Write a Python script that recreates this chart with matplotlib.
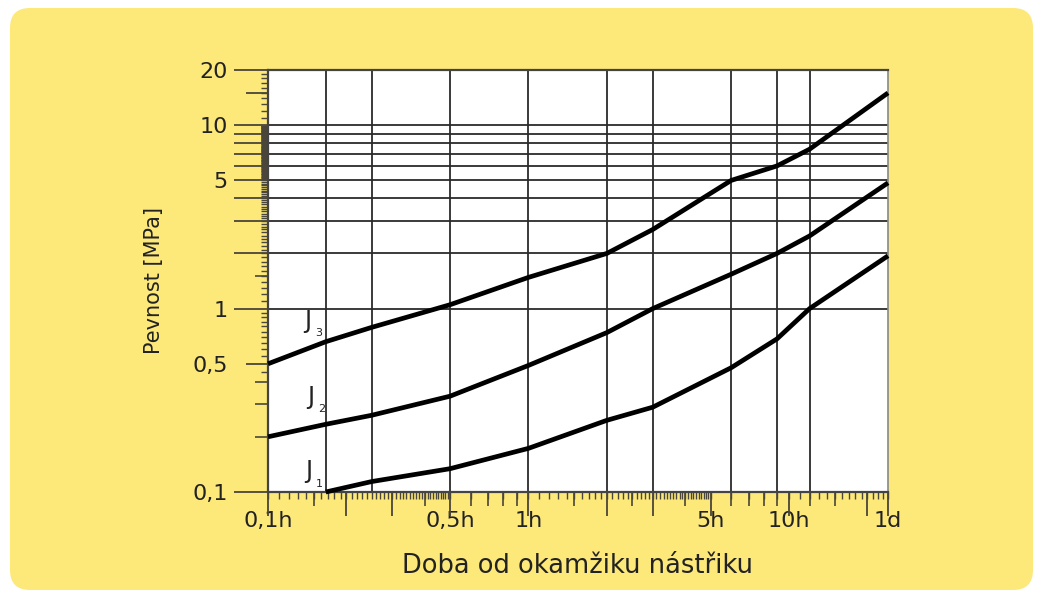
import numpy as np
import matplotlib
matplotlib.use("Agg")
import matplotlib.pyplot as plt
from matplotlib.patches import FancyBboxPatch
from matplotlib.transforms import IdentityTransform

# time since spraying [h] and strength [MPa] for classes J1..J3
t_j3 = [0.1, 1/6, 0.25, 0.5, 1, 2, 3, 6, 9, 12, 24]
s_j3 = [0.5, 0.66, 0.79, 1.05, 1.48, 2.0, 2.7, 5.0, 6.0, 7.4, 15.0]
t_j2 = [0.1, 1/6, 0.25, 0.5, 1, 2, 3, 6, 9, 12, 24]
s_j2 = [0.2, 0.234, 0.262, 0.333, 0.49, 0.74, 1.0, 1.54, 2.0, 2.49, 4.85]
t_j1 = [1/6, 0.25, 0.5, 1, 2, 3, 6, 9, 12, 24]
s_j1 = [0.1, 0.114, 0.134, 0.173, 0.246, 0.29, 0.476, 0.684, 1.0, 1.94]

x_ticks = [0.1, 0.5, 1, 5, 10, 24]
x_ticklabels = ['0,1h', '0,5h', '1h', '5h', '10h', '1d']
y_ticks = [0.1, 0.5, 1, 5, 10, 20]
y_ticklabels = ['0,1', '0,5', '1', '5', '10', '20']
x_grid = [1/6, 0.25, 0.5, 1, 2, 3, 6, 9, 12]
y_grid = [1, 2, 3, 4, 5, 6, 7, 8, 9, 10]

YELLOW = '#fde87a'
INK = '#2b2b2b'
TICK = '#4a463a'
TEXT = '#222222'

fig = plt.figure(figsize=(10.37, 5.95), dpi=100)
fig.patch.set_facecolor('white')
fig.add_artist(FancyBboxPatch((10, 5), 1023, 582,
                              boxstyle='round,pad=0,rounding_size=20',
                              transform=IdentityTransform(),
                              fc=YELLOW, ec='none', zorder=-10))

ax = fig.add_axes([268/1037, 1 - 492/595, 620/1037, 422/595])
ax.set_facecolor('white')
ax.set_xscale('log')
ax.set_yscale('log')
ax.set_xlim(0.1, 24)
ax.set_ylim(0.1, 20)

for g in x_grid:
    ax.axvline(g, color=INK, lw=1.3, zorder=1)
for g in y_grid:
    ax.axhline(g, color=INK, lw=1.3, zorder=1)

for t, s in [(t_j3, s_j3), (t_j2, s_j2), (t_j1, s_j1)]:
    ax.plot(t, s, color='black', lw=3.4, solid_joinstyle='round',
            solid_capstyle='butt', zorder=3, clip_on=False)

# curve names with subscripts
name_font = ['Liberation Sans Narrow', 'DejaVu Sans']
for sub, (xj, yj) in [('3', (0.138, 0.74)), ('2', (0.141, 0.285)), ('1', (0.139, 0.112))]:
    ax.text(xj, yj, 'J', fontsize=17, color=TEXT, ha='left', va='bottom',
            family=name_font)
    ax.text(xj * 1.1, yj * 0.93, sub, fontsize=8, color=TEXT,
            ha='left', va='bottom', family=name_font)

# ruler-style ticks in several lengths
ax.tick_params(which='both', length=0)
ax.minorticks_off()
ax.set_xticks(x_ticks)
ax.set_xticklabels(x_ticklabels)
ax.set_yticks(y_ticks)
ax.set_yticklabels(y_ticklabels)
ax.tick_params(axis='x', pad=14, labelsize=16, colors=TEXT)
ax.tick_params(axis='y', pad=29, labelsize=16, colors=TEXT)

x_long = [0.1, 0.2, 0.3, 0.5, 1, 2, 3, 5, 10, 20, 24]
x_mid = [0.15, 0.4, 0.6, 0.7, 0.8, 0.9, 1.5, 2.5, 4, 6, 7, 8, 9, 12, 15]
x_short = list(np.arange(0.10, 0.50, 0.01)) + list(np.arange(0.5, 5.0, 0.1)) + list(range(5, 25))
y_long = [0.1, 1, 2, 3, 4, 5, 6, 7, 8, 9, 10, 20]
y_mid = [0.5, 15]
y_small = [0.2, 0.3, 0.4, 1.5]
y_short = [0.45] + list(np.arange(0.55, 1.0, 0.05)) + list(np.arange(1.1, 5.0, 0.1)) \
    + list(np.arange(5.05, 10.0, 0.05)) + list(range(11, 20))

ax_h = 422.0
ax_w = 620.0
xt = ax.get_xaxis_transform()
yt = ax.get_yaxis_transform()
for vals, ln, lw in [(x_short, 7, 1.0), (x_mid, 14, 1.2), (x_long, 24, 1.3)]:
    ax.vlines(vals, -ln / ax_h, 0, transform=xt, color=TICK, lw=lw, clip_on=False)
for vals, ln, lw in [(y_short, 7, 1.0), (y_small, 13, 1.2), (y_mid, 22, 1.3), (y_long, 34, 1.3)]:
    ax.hlines(vals, -ln / ax_w, 0, transform=yt, color=TICK, lw=lw, clip_on=False)

for side in ['left', 'bottom', 'top']:
    ax.spines[side].set_color('#444444')
    ax.spines[side].set_linewidth(1.6)
ax.spines['right'].set_color('#888888')
ax.spines['right'].set_linewidth(1.2)

ax.set_xlabel('Doba od okamžiku nástřiku', fontsize=18.5, color=TEXT)
ax.set_ylabel('Pevnost [MPa]', fontsize=15, color=TEXT)
ax.xaxis.set_label_coords(0.5, -0.145)
ax.yaxis.set_label_coords(-0.168, 0.5)

fig.savefig('out.png', dpi=100, facecolor=fig.get_facecolor())
